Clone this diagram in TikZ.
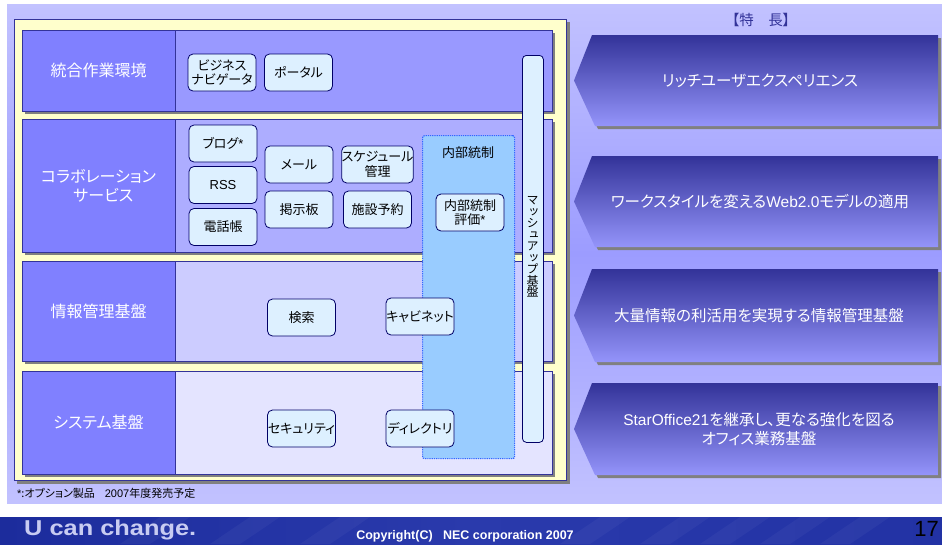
\documentclass[tikz,border=0pt]{standalone}
\usepackage{fontspec}
\setmainfont{Noto Sans CJK JP}[RawFeature=+palt]
\newfontfamily\vfont{Noto Sans CJK JP}[RawFeature=+vert]
\newfontfamily\arialfont{Liberation Sans}
\newfontfamily\ucfont{Liberation Sans}[FakeStretch=1.18]
\newcommand{\lat}[1]{{\arialfont #1}}
\definecolor{bgtop}{HTML}{C2C2FF}
\definecolor{bgmid}{HTML}{9C9CFF}
\definecolor{framefill}{HTML}{FFFFCC}
\definecolor{frameline}{HTML}{333399}
\definecolor{shgray}{HTML}{808080}
\definecolor{labelfill}{HTML}{8080FF}
\definecolor{rowa}{HTML}{9999FF}
\definecolor{rowb}{HTML}{ADADFF}
\definecolor{rowc}{HTML}{CCCCFF}
\definecolor{rowd}{HTML}{E4E4FF}
\definecolor{boxfill}{HTML}{DDF0FF}
\definecolor{boxline}{HTML}{000066}
\definecolor{ctrlfill}{HTML}{99CCFF}
\definecolor{dotblue}{HTML}{3366FF}
\definecolor{arrtop}{HTML}{333399}
\definecolor{arrbot}{HTML}{9494FA}
\definecolor{titlecol}{HTML}{333399}
\definecolor{barleft}{HTML}{1C2C9C}
\definecolor{barmid}{HTML}{2A3AAC}
\definecolor{barright}{HTML}{2232A4}
\definecolor{uccol}{HTML}{C8CCF2}
\begin{document}
\begin{tikzpicture}[x=1pt,y=-1pt,
  rowbox/.style={draw=frameline, line width=0.8pt, anchor=north west, inner sep=0pt},
  rowlabel/.style={draw=frameline, line width=0.8pt, fill=labelfill, text=white,
    font=\fontsize{16}{19}\selectfont, align=center, inner sep=0pt, minimum width=153},
  box/.style={draw=boxline, line width=0.8pt, fill=boxfill, rounded corners=5pt,
    minimum width=68, minimum height=37, inner sep=0pt, align=center,
    font=\fontsize{13}{14.5}\selectfont},
  arrtext/.style={text=white, align=center, font=\fontsize{15.5}{19}\selectfont},
]
\useasboundingbox (0,0) rectangle (942,544);
\fill[white] (0,0) rectangle (942,544);
% background
\shade[top color=bgtop, bottom color=bgtop, middle color=bgmid] (7,4) rectangle (942,503);
% outer frame
\fill[shgray] (17,22) rectangle (570,484);
\node[draw=frameline, line width=0.8pt, fill=framefill, anchor=north west, inner sep=0pt,
  minimum width=552, minimum height=461] (frame) at (14,19) {};
% rows
\fill[shgray] (25,33) rectangle (555,114);
\node[rowbox, fill=rowa, minimum width=530, minimum height=81] (r1) at (22,30) {};
\node[rowlabel, minimum height=81] (l1) at (98.5,70.5) {統合作業環境};
\fill[shgray] (25,122) rectangle (555,255);
\node[rowbox, fill=rowb, minimum width=530, minimum height=133] (r2) at (22,119) {};
\node[rowlabel, minimum height=133] (l2) at (98.5,185.5) {コラボレーション\\\hspace{0.6em}サービス};
\fill[shgray] (25,264) rectangle (555,364);
\node[rowbox, fill=rowc, minimum width=530, minimum height=100] (r3) at (22,261) {};
\node[rowlabel, minimum height=100] (l3) at (98.5,311) {情報管理基盤};
\fill[shgray] (25,374) rectangle (555,477);
\node[rowbox, fill=rowd, minimum width=530, minimum height=103] (r4) at (22,371) {};
\node[rowlabel, minimum height=103] (l4) at (98.5,422.5) {システム基盤};
% internal control region
\node[draw=dotblue, densely dotted, line width=1.2pt, fill=ctrlfill, rounded corners=2pt,
  anchor=north west, minimum width=92, minimum height=323, inner sep=0pt] (ctrl) at (422,135) {};
\node[font=\fontsize{13}{14.5}\selectfont] (ctrlt) at (468,153) {内部統制};
% mashup bar
\node[draw=boxline, line width=0.8pt, fill=boxfill, rounded corners=4pt, anchor=north west,
  minimum width=21, minimum height=387, inner sep=0pt] (mash) at (522,55) {};
\node[font=\vfont\fontsize{12}{11.5}\selectfont, align=center, inner sep=0pt] (masht)
  at (532.5,247) {マ\\ッ\\シ\\ュ\\ア\\ッ\\プ\\基\\盤};
% boxes
\node[box] (biz) at (222,72.5) {ビジネス\\ナビゲータ};
\node[box] (portal) at (298.5,72.5) {ポータル};
\node[box] (blog) at (223,143.5) {ブログ\lat{*}};
\node[box] (rss) at (223,185) {\lat{RSS}};
\node[box] (tel) at (223,227) {電話帳};
\node[box] (mail) at (299,164.5) {メール};
\node[box] (bbs) at (299,209.5) {掲示板};
\node[box] (sched) at (377.5,164.5) {スケジュール\\管理};
\node[box] (facil) at (377.5,209.5) {施設予約};
\node[box] (ceval) at (470,212.5) {内部統制\\評価\lat{*}};
\node[box] (search) at (301.5,317.5) {検索};
\node[box] (cab) at (420,316.5) {キャビネット};
\node[box] (sec) at (301.5,428.5) {セキュリティ};
\node[box] (dir) at (420,428.5) {ディレクトリ};
% title
\node[text=titlecol, font=\fontsize{14.5}{16}\selectfont] (title) at (761,20) {【特　長】};
% chevrons
\foreach \t/\b in {35/126, 156/247, 269/362, 383/475}{
  \fill[shgray] (595,{\t+3}) -- (941,{\t+3}) -- (941,{\b+3}) -- (598,{\b+3}) -- (577,{(\t+\b)/2+3}) -- cycle;
  \shade[top color=arrtop, bottom color=arrbot] (592,\t) -- (938,\t) -- (938,\b) -- (595,\b) -- (574,{(\t+\b)/2}) -- cycle;
}
\node[arrtext] (f1) at (760,80.5) {リッチユーザエクスペリエンス};
\node[arrtext] (f2) at (760,201.5) {ワークスタイルを変える\lat{Web2.0}モデルの適用};
\node[arrtext] (f3) at (759,315.5) {大量情報の利活用を実現する情報管理基盤};
\node[arrtext] (f4) at (759,429) {\lat{StarOffice21}を継承し、更なる強化を図る\\オフィス業務基盤};
% footnote
\node[anchor=west, font=\fontsize{11}{13}\selectfont, inner sep=0pt] (note) at (17,493) {\lat{*}:オプション製品\hspace{0.9em}\lat{2007}年度発売予定};
% bottom bar
\shade[left color=barleft, right color=barright, middle color=barmid] (0,517) rectangle (942,544);
\foreach \s in {120,210,300,560,640,700,760,820}{
  \fill[white, opacity=0.04] (\s,544) -- (\s+40,517) -- (\s+70,517) -- (\s+30,544) -- cycle;
}
\node[anchor=west, text=uccol, font=\ucfont\bfseries\fontsize{21.5}{24}\selectfont, inner sep=0pt] (uc) at (24,529.5) {U can change.};
\node[text=white, font=\arialfont\bfseries\fontsize{12.5}{14}\selectfont, inner sep=0pt] (copy) at (465,536) {Copyright(C)\ \ \ NEC corporation 2007};
\node[anchor=east, text=black, font=\arialfont\fontsize{22}{24}\selectfont, inner sep=0pt] (page) at (939,529) {17};
\end{tikzpicture}
\end{document}
